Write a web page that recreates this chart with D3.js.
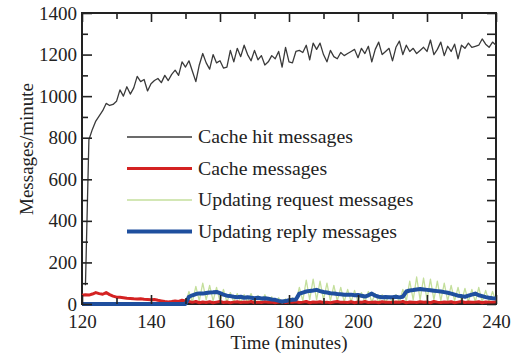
<!DOCTYPE html>
<html>
<head>
<meta charset="utf-8">
<script src="https://cdn.jsdelivr.net/npm/d3@7"></script>
<style>
  body { margin: 0; background: #fff; }
  svg text { font-family: "Liberation Serif", "Times New Roman", serif !important; }
</style>
</head>
<body>
<div id="chart"></div>
<script>
// time axis, one sample per minute
const minutes = d3.range(120, 241);

const cacheHit = [null, 90, 790, 840, 880, 905, 930, 965, 955, 960,
  975, 1030, 1000, 1045, 1010, 1040, 1095, 1070, 1080, 1025,
  1060, 1075, 1085, 1065, 1100, 1075, 1105, 1125, 1100, 1165,
  1140, 1170, 1120, 1070, 1150, 1205, 1160, 1130, 1200, 1160,
  1170, 1135, 1140, 1220, 1165, 1230, 1190, 1245, 1200, 1170,
  1220, 1175, 1195, 1150, 1165, 1195, 1180, 1215, 1140, 1235,
  1165, 1160, 1215, 1220, 1210, 1245, 1175, 1255, 1225, 1255,
  1200, 1165, 1220, 1190, 1180, 1210, 1195, 1205, 1215, 1225,
  1185, 1230, 1205, 1240, 1165, 1225, 1260, 1200, 1215, 1230,
  1170, 1235, 1265, 1200, 1245, 1215, 1230, 1205, 1220, 1235,
  1215, 1270, 1200, 1225, 1260, 1195, 1240, 1215, 1250, 1180,
  1245, 1230, 1255, 1235, 1240, 1245, 1275, 1250, 1235, 1260,
  1245];

const cacheMsg = [42, 44, 43, 48, 55, 50, 47, 55, 45, 38,
  33, 32, 30, 28, 27, 25, 24, 25, 23, 22,
  20, 22, 18, 15, 12, 10, 12, 15, 12, 18,
  15, 12,
  8, 12, 6, 10, 7, 11, 6, 9, 12, 7, 10, 6, 9, 11, 7, 10, 8, 12, 6, 9, 7, 11, 8, 10, 6, 9, 12, 7, 10, 8,
  11, 7, 9, 12, 6, 10, 8, 11, 7, 9, 6, 10, 12, 8, 9, 7, 11, 6, 10, 8, 12, 7, 9, 10, 6, 11, 8, 9, 7, 10,
  8, 12, 6, 10, 9, 7, 11, 8, 10, 6, 12, 9, 7, 10, 8, 11, 6, 9, 12, 7, 10, 8, 9, 11, 6, 10, 8, 9, 10];

const updRequest = [0, 0, 0, 0, 0, 0, 0, 0, 0, 0,
  0, 0, 0, 0, 0, 0, 0, 0, 0, 0,
  0, 0, 0, 0, 0, 0, 0, 0, 0, 0, 0,
  60, 10, 85, 15, 100, 20, 90, 15, 80, 10,
  70, 10, 55, 10, 50, 8, 45, 8, 50, 8,
  40, 8, 45, 8, 35, 5, 30, 5, 25, 5,
  30, 10, 80, 15, 115, 20, 120, 20, 110, 20,
  100, 15, 90, 15, 80, 10, 70, 10, 65, 10,
  55, 8, 60, 10, 50, 8, 45, 8, 40, 8,
  45, 8, 70, 15, 110, 20, 130, 20, 125, 20,
  120, 20, 110, 15, 100, 15, 90, 15, 80, 10,
  75, 10, 70, 10, 80, 10, 65, 10, 60, 10];

const updReply = [0, 0, 0, 0, 0, 0, 0, 0, 0, 0,
  0, 0, 0, 0, 0, 0, 0, 0, 0, 0,
  0, 0, 0, 0, 0, 0, 0, 0, 0, 0, 0,
  35, 42, 48, 51, 50, 53, 55, 56, 58, 52,
  45, 40, 38, 35, 33, 35, 30, 32, 30, 28,
  30, 27, 28, 25, 22, 20, 15, 12, 14, 18,
  20, 22, 50, 55, 60, 63, 65, 68, 62, 58,
  55, 52, 50, 48, 47, 45, 44, 45, 42, 43,
  40, 36, 42, 50, 40, 35, 33, 34, 32, 33,
  35, 32, 35, 60, 65, 67, 70, 72, 70, 68,
  66, 64, 62, 60, 57, 54, 50, 45, 40, 38,
  35, 40, 45, 50, 42, 38, 33, 30, 28, 27];

const seriesNames = ["Cache hit messages", "Cache messages", "Updating request messages", "Updating reply messages"];
const xMajor = [120, 140, 160, 180, 200, 220, 240];
const xMinor = [130, 150, 170, 190, 210, 230];
const yMajor = [0, 200, 400, 600, 800, 1000, 1200, 1400];
const yMinor = [100, 300, 500, 700, 900, 1100, 1300];

const w = 517, h = 361;
const margin = { left: 82, right: 21, top: 13, bottom: 57 };
const ink = "#222";
const fontFamily = '"Liberation Serif", "Times New Roman", serif';
const fontSize = 19;

const svg = d3.select("#chart").append("svg")
  .attr("width", w)
  .attr("height", h);

const xScale = d3.scaleLinear().domain([120, 240]).range([margin.left, w - margin.right]);
const yScale = d3.scaleLinear().domain([0, 1400]).range([h - margin.bottom, margin.top]);

// frame
svg.append("rect")
  .attr("x", margin.left)
  .attr("y", margin.top)
  .attr("width", w - margin.left - margin.right)
  .attr("height", h - margin.top - margin.bottom)
  .attr("fill", "none")
  .attr("stroke", ink)
  .attr("stroke-width", 2);

const styles = [
  { data: cacheHit, color: "#3a3a3a", width: 1.3 },
  { data: cacheMsg, color: "#d42222", width: 3 },
  { data: updRequest, color: "#c4df9c", width: 1.3 },
  { data: updReply, color: "#1f4f9e", width: 4 }
];

const line = d3.line()
  .defined((d) => d.v != null)
  .x((d) => xScale(d.t))
  .y((d) => yScale(d.v));

// draw order: request, cache, reply, hit
[2, 1, 3, 0].forEach((k) => {
  const s = styles[k];
  svg.append("path")
    .datum(minutes.map((t, i) => ({ t, v: s.data[i] })))
    .attr("fill", "none")
    .attr("stroke", s.color)
    .attr("stroke-width", s.width)
    .attr("stroke-linejoin", "round")
    .attr("d", line);
});

const styleAxis = (g, labels) => {
  g.select(".domain").remove();
  g.attr("font-size", fontSize).attr("font-family", fontFamily);
  g.selectAll("line").attr("stroke", ink).attr("stroke-width", 1.6);
  if (labels) g.selectAll("text").attr("fill", ink).style("font-family", fontFamily);
};

const fmt = d3.format("d");

// x axes (ticks point inward)
svg.append("g")
  .attr("transform", `translate(0, ${h - margin.bottom})`)
  .call(d3.axisBottom(xScale).tickValues(xMajor).tickFormat(fmt).tickSizeInner(-9).tickSizeOuter(0).tickPadding(11))
  .call((g) => styleAxis(g, true));
svg.append("g")
  .attr("transform", `translate(0, ${h - margin.bottom})`)
  .call(d3.axisBottom(xScale).tickValues(xMinor).tickSize(-6).tickFormat(""))
  .call((g) => styleAxis(g, false));
svg.append("g")
  .attr("transform", `translate(0, ${margin.top})`)
  .call(d3.axisTop(xScale).tickValues(xMajor).tickSize(-9).tickFormat(""))
  .call((g) => styleAxis(g, false));
svg.append("g")
  .attr("transform", `translate(0, ${margin.top})`)
  .call(d3.axisTop(xScale).tickValues(xMinor).tickSize(-6).tickFormat(""))
  .call((g) => styleAxis(g, false));

// y axes
svg.append("g")
  .attr("transform", `translate(${margin.left}, 0)`)
  .call(d3.axisLeft(yScale).tickValues(yMajor).tickFormat(fmt).tickSizeInner(-10).tickSizeOuter(0).tickPadding(5))
  .call((g) => styleAxis(g, true));
svg.append("g")
  .attr("transform", `translate(${margin.left}, 0)`)
  .call(d3.axisLeft(yScale).tickValues(yMinor).tickSize(-6).tickFormat(""))
  .call((g) => styleAxis(g, false));
svg.append("g")
  .attr("transform", `translate(${w - margin.right}, 0)`)
  .call(d3.axisRight(yScale).tickValues(yMajor.concat(yMinor)).tickSize(-9).tickFormat(""))
  .call((g) => styleAxis(g, false));

// axis titles
svg.append("text")
  .attr("x", (margin.left + w - margin.right) / 2)
  .attr("y", 349)
  .attr("text-anchor", "middle")
  .attr("font-size", fontSize)
  .attr("fill", ink)
  .text("Time (minutes)");
svg.append("text")
  .attr("transform", `translate(33, 149) rotate(-90)`)
  .attr("text-anchor", "middle")
  .attr("font-size", fontSize)
  .attr("fill", ink)
  .text("Messages/minute");

// legend
const legend = svg.append("g");
seriesNames.forEach((name, i) => {
  const yy = 137 + i * 31.5;
  legend.append("line")
    .attr("x1", 127).attr("x2", 192)
    .attr("y1", yy).attr("y2", yy)
    .attr("stroke", styles[i].color)
    .attr("stroke-width", styles[i].width);
  legend.append("text")
    .attr("x", 198)
    .attr("y", yy + 6)
    .attr("font-size", 19.8)
    .attr("fill", ink)
    .text(name);
});
</script>
</body>
</html>
